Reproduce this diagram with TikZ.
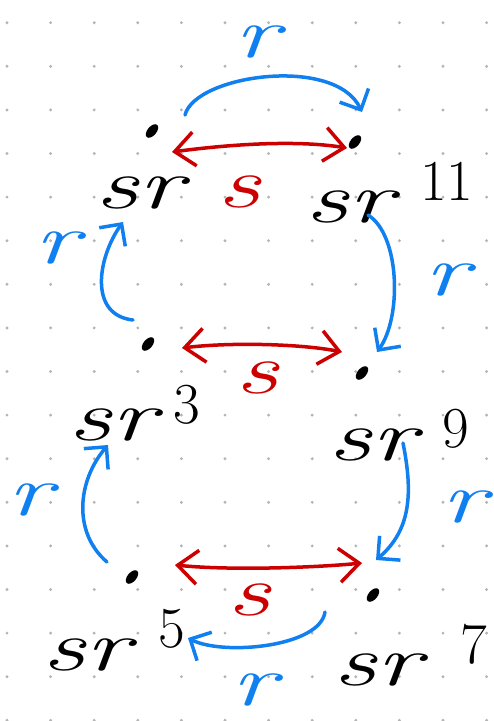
\documentclass[tikz,border=0pt]{standalone}
\usepackage{graphicx}
\usetikzlibrary{arrows.meta,shapes.geometric}
\definecolor{penred}{RGB}{204,0,0}
\definecolor{penblue}{RGB}{16,128,240}
\definecolor{dotgray}{RGB}{180,180,180}
\newcommand\hw[1]{\scalebox{1.5}[1]{\textit{#1}}}
\newcommand\srlab[3]{\hw{sr}\kern#2pt\raisebox{#3pt}{\fontsize{58}{58}\selectfont #1}}
\begin{document}
\begin{tikzpicture}[x=1pt,y=-1pt,
  vertex/.style={ellipse, fill=black, inner sep=0pt, minimum width=16pt, minimum height=9pt, rotate=50},
  lab/.style={anchor=base west, inner sep=0pt, font=\fontsize{72}{72}\selectfont},
  slab/.style={text=penred, inner sep=0pt, font=\fontsize{72}{72}\selectfont},
  rlab/.style={text=penblue, inner sep=0pt, font=\fontsize{72}{72}\selectfont},
  sarrow/.style={draw=penred, line width=3.5pt, line cap=round, line join=round, >={Straight Barb[length=20pt,width=34pt]}, <->},
  rarrow/.style={draw=penblue, line width=3.5pt, line cap=round, line join=round, >={Straight Barb[length=16pt,width=32pt]}, ->}]
\useasboundingbox (0,0) rectangle (494,721);
\fill[white] (0,0) rectangle (494,721);
% dot grid
\foreach \i in {0,...,11}
  \foreach \j in {0,...,16}
    \fill[dotgray] (7+43.6*\i, 22.7+43.6*\j) circle (1.6);
% vertices
\node[vertex] (v1) at (152,131) {};
\node[vertex] (v2) at (355,142) {};
\node[vertex] (v3) at (148,344) {};
\node[vertex] (v4) at (362,373) {};
\node[vertex] (v5) at (132,577) {};
\node[vertex] (v6) at (373,595) {};
% vertex labels
\node[lab] (l1) at (95,208) {\hw{sr}};
\node[lab] (l2) at (305,222) {\srlab{11}{20}{22}};
\node[lab] (l3) at (68,440) {\srlab{3}{10}{17}};
\node[lab] (l4) at (328,460) {\srlab{9}{19}{13}};
\node[lab] (l5) at (42,670) {\srlab{5}{21}{23}};
\node[lab] (l6) at (333,685) {\srlab{7}{32}{22}};
% s arrows
\draw[sarrow] ([shift={(20,21)}]v1.center) .. controls +(60,-8) and +(-50,-8) .. ([shift={(-8,6)}]v2.center);
\draw[sarrow] ([shift={(34,4)}]v3.center) .. controls +(50,-6) and +(-40,-8) .. ([shift={(-20,-21)}]v4.center);
\draw[sarrow] ([shift={(43,-12)}]v5.center) .. controls +(60,6) and +(-40,4) .. ([shift={(-11,-32)}]v6.center);
\node[slab] (s1) at (240,192) {\hw{s}};
\node[slab] (s2) at (258,378) {\hw{s}};
\node[slab] (s3) at (250,600) {\hw{s}};
% r arrows
\draw[rarrow] ([shift={(33,-16)}]v1.center) .. controls (195,75) and (335,55) .. ([shift={(7,-30)}]v2.center);
\draw[rarrow] ([shift={(-15,-24)}]v3.center) .. controls +(-45,-5) and +(-25,35) .. ([shift={(-29,91)}]v1.center);
\draw[rarrow] ([shift={(13,73)}]v2.center) .. controls +(32,20) and +(25,-35) .. ([shift={(15,-21)}]v4.center);
\draw[rarrow] ([shift={(-25,-15)}]v5.center) .. controls +(-35,-30) and +(-30,35) .. ([shift={(-40,101)}]v3.center);
\draw[rarrow] ([shift={(41,70)}]v4.center) .. controls +(10,50) and +(35,-30) .. ([shift={(3,-35)}]v6.center);
\draw[rarrow] ([shift={(-48,17)}]v6.center) .. controls +(-5,35) and +(35,18) .. ([shift={(56,61)}]v5.center);
\node[rlab] (r1) at (260,42) {\hw{r}};
\node[rlab] (r2) at (60,248) {\hw{r}};
\node[rlab] (r3) at (450,280) {\hw{r}};
\node[rlab] (r4) at (33,500) {\hw{r}};
\node[rlab] (r5) at (467,507) {\hw{r}};
\node[rlab] (r6) at (257,690) {\hw{r}};
\end{tikzpicture}
\end{document}
